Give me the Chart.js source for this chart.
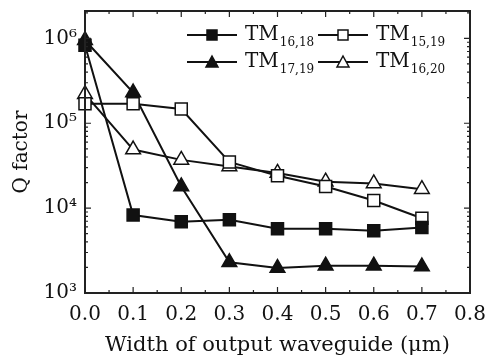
<!DOCTYPE html>
<html>
<head>
<meta charset="utf-8">
<script src="https://cdn.jsdelivr.net/npm/chart.js@4"></script>
<style>
  html, body { margin: 0; padding: 0; background: #fff; }
  #wrap { width: 488px; height: 358px; }
</style>
</head>
<body>
<div id="wrap"><canvas id="chartQ"></canvas></div>
<script>
// data
const widths = [0.0, 0.1, 0.2, 0.3, 0.4, 0.5, 0.6, 0.7];
const tm1618 = [830000, 8300, 6900, 7300, 5700, 5700, 5400, 5900];
const tm1519 = [170000, 170000, 147000, 35000, 24000, 18000, 12300, 7600];
const tm1719 = [950000, 230000, 18000, 2300, 1970, 2100, 2100, 2050];
const tm1620 = [220000, 49000, 37000, 31000, 26000, 20500, 19500, 16700];
const seriesNames = [["TM", "16,18"], ["TM", "15,19"], ["TM", "17,19"], ["TM", "16,20"]];
const yTicks = [1e3, 1e4, 1e5, 1e6];
const yTickText = ["10\u00B3", "10\u2074", "10\u2075", "10\u2076"];
const xTicks = [0, 0.1, 0.2, 0.3, 0.4, 0.5, 0.6, 0.7, 0.8];

const serif = "'DejaVu Serif', serif";

function pts(vals) {
  return widths.map(function(w, i) { return { x: w, y: vals[i] }; });
}

function makeSet(label, vals, style, filled) {
  return {
    label: label,
    data: pts(vals),
    borderColor: '#111',
    borderWidth: 2,
    pointStyle: style,
    pointRadius: 8.5,
    pointBackgroundColor: filled ? '#111' : '#fff',
    pointBorderColor: '#111',
    pointBorderWidth: 1.5,
    tension: 0,
    clip: false
  };
}

// frame, inward ticks and the legend with subscripts
const decorations = {
  id: 'decorations',
  afterDraw: function(chart) {
    const ctx = chart.ctx;
    const a = chart.chartArea;
    const xs = chart.scales.x, ys = chart.scales.y;
    ctx.save();
    ctx.strokeStyle = '#222';
    ctx.lineWidth = 2;
    ctx.strokeRect(a.left, a.top, a.right - a.left, a.bottom - a.top);

    ctx.lineWidth = 1.2;
    ctx.beginPath();
    for (let k = 0; k <= 16; k++) {
      const px = xs.getPixelForValue(k * 0.05);
      const len = k % 2 === 0 ? 6 : 3;
      ctx.moveTo(px, a.bottom); ctx.lineTo(px, a.bottom - len);
      ctx.moveTo(px, a.top); ctx.lineTo(px, a.top + len);
    }
    for (let d = 3; d <= 6; d++) {
      for (let m = 1; m <= 9; m++) {
        const v = m * Math.pow(10, d);
        if (v > ys.max) break;
        const py = ys.getPixelForValue(v);
        const len = m === 1 ? 6 : 3;
        ctx.moveTo(a.left, py); ctx.lineTo(a.left + len, py);
        ctx.moveTo(a.right, py); ctx.lineTo(a.right - len, py);
      }
    }
    ctx.stroke();

    // legend
    const cols = [187, 318];
    const rows = [35, 62];
    chart.data.datasets.forEach(function(ds, i) {
      const x0 = cols[i % 2], y0 = rows[Math.floor(i / 2)];
      ctx.strokeStyle = '#111';
      ctx.lineWidth = 2;
      ctx.beginPath();
      ctx.moveTo(x0, y0); ctx.lineTo(x0 + 50, y0);
      ctx.stroke();
      ctx.fillStyle = ds.pointBackgroundColor;
      ctx.lineWidth = 1.5;
      ctx.beginPath();
      if (ds.pointStyle === 'rect') {
        ctx.rect(x0 + 20, y0 - 5, 10, 10);
      } else {
        ctx.moveTo(x0 + 25, y0 - 6); ctx.lineTo(x0 + 31, y0 + 5); ctx.lineTo(x0 + 19, y0 + 5); ctx.closePath();
      }
      ctx.fill(); ctx.stroke();
      ctx.fillStyle = '#111';
      ctx.textBaseline = 'middle';
      ctx.textAlign = 'left';
      ctx.font = '20px ' + serif;
      const name = seriesNames[i];
      ctx.fillText(name[0], x0 + 58, y0);
      const w = ctx.measureText(name[0]).width;
      ctx.font = '12px ' + serif;
      ctx.fillText(name[1], x0 + 58 + w + 1, y0 + 8);
    });
    ctx.restore();
  }
};

new Chart(document.getElementById('chartQ'), {
  type: 'line',
  data: {
    datasets: [
      makeSet('TM16,18', tm1618, 'rect', true),
      makeSet('TM15,19', tm1519, 'rect', false),
      makeSet('TM17,19', tm1719, 'triangle', true),
      makeSet('TM16,20', tm1620, 'triangle', false)
    ]
  },
  plugins: [decorations],
  options: {
    responsive: true,
    maintainAspectRatio: false,
    animation: false,
    layout: { padding: { top: 11, right: 18, left: 0, bottom: 0 } },
    plugins: { legend: { display: false }, tooltip: { enabled: false } },
    scales: {
      x: {
        type: 'linear',
        min: 0, max: 0.8,
        afterBuildTicks: function(s) { s.ticks = xTicks.map(function(v) { return { value: v }; }); },
        afterFit: function(s) { s.height = 65; s.paddingLeft = 0; s.paddingRight = 0; },
        grid: { display: false },
        border: { display: false },
        ticks: {
          color: '#111',
          padding: 2,
          font: { family: serif, size: 20 },
          callback: function(v) { return v.toFixed(1); }
        },
        title: {
          display: true,
          text: 'Width of output waveguide (\u03BCm)',
          color: '#111',
          padding: { top: 0, bottom: 0 },
          font: { family: serif, size: 21 }
        }
      },
      y: {
        type: 'logarithmic',
        min: 1000, max: 2100000,
        afterBuildTicks: function(s) { s.ticks = yTicks.map(function(v) { return { value: v }; }); },
        afterFit: function(s) { s.width = 85; s.paddingTop = 0; s.paddingBottom = 0; },
        grid: { display: false },
        border: { display: false },
        ticks: {
          color: '#111',
          padding: 0,
          font: { family: serif, size: 20 },
          callback: function(v) { return yTickText[yTicks.indexOf(v)]; }
        },
        title: {
          display: true,
          text: 'Q factor',
          color: '#111',
          padding: { top: 10, bottom: 0 },
          font: { family: serif, size: 20 }
        }
      }
    }
  }
});
</script>
</body>
</html>
